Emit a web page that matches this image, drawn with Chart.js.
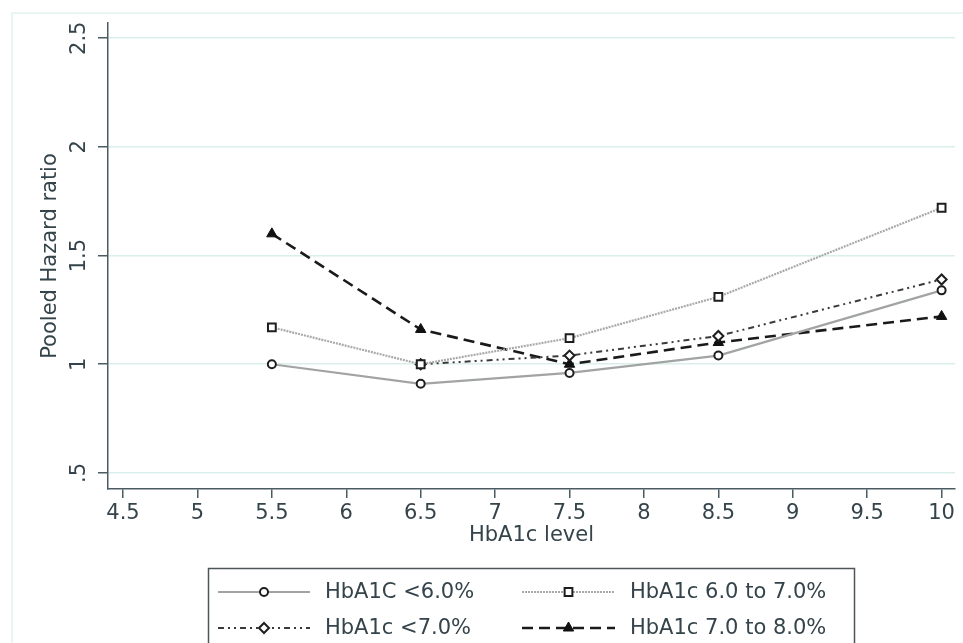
<!DOCTYPE html>
<html>
<head>
<meta charset="utf-8">
<script src="https://cdn.jsdelivr.net/npm/chart.js@4/dist/chart.umd.min.js"></script>
<style>
  html, body { margin: 0; padding: 0; background: #ffffff; }
  #wrap { width: 963px; height: 643px; position: relative; }
</style>
</head>
<body>
<div id="wrap"><canvas id="c" width="963" height="643"></canvas></div>
<script>
// ---- data ----
const hba1cLevels = [5.5, 6.5, 7.5, 8.5, 10];
const hrBelow6 = [1.00, 0.91, 0.96, 1.04, 1.34];
const hr6to7 = [1.17, 1.00, 1.12, 1.31, 1.72];
const hrBelow7 = [null, 1.00, 1.04, 1.13, 1.39];
const hr7to8 = [1.60, 1.16, 1.00, 1.10, 1.22];
const seriesNames = ['HbA1C <6.0%', 'HbA1c 6.0 to 7.0%', 'HbA1c <7.0%', 'HbA1c 7.0 to 8.0%'];
const xTickValues = [4.5, 5, 5.5, 6, 6.5, 7, 7.5, 8, 8.5, 9, 9.5, 10];
const xTickLabels = ['4.5', '5', '5.5', '6', '6.5', '7', '7.5', '8', '8.5', '9', '9.5', '10'];
const yTickValues = [0.5, 1, 1.5, 2, 2.5];
const yTickLabels = ['.5', '1', '1.5', '2', '2.5'];
const xAxisTitle = 'HbA1c level';
const yAxisTitle = 'Pooled Hazard ratio';

const toPoints = (vals) => hba1cLevels.map((x, i) => ({ x: x, y: vals[i] })).filter(p => p.y !== null);

const FONT = '"DejaVu Sans", sans-serif';
const FSIZE = 21;
const TEXT = '#34444a';
const AXIS = '#4a5b61';

const datasets = [
  { label: seriesNames[0], data: toPoints(hrBelow6), borderColor: '#a1a4a3', borderWidth: 2.2, borderDash: [],
    pointStyle: 'circle', pointRadius: 4, pointBorderWidth: 2, pointBorderColor: '#1e1e1e', pointBackgroundColor: '#ffffff' },
  { label: seriesNames[1], data: toPoints(hr6to7), borderColor: '#a7aaa9', borderWidth: 2.2, borderDash: [2, 1],
    pointStyle: 'rect', pointRadius: 5.5, pointBorderWidth: 2, pointBorderColor: '#1e1e1e', pointBackgroundColor: '#ffffff' },
  { label: seriesNames[2], data: toPoints(hrBelow7), borderColor: '#3a3a3a', borderWidth: 2, borderDash: [6, 4, 2, 4, 2, 4],
    pointStyle: 'rectRot', pointRadius: 5, pointBorderWidth: 2, pointBorderColor: '#1e1e1e', pointBackgroundColor: '#ffffff' },
  { label: seriesNames[3], data: toPoints(hr7to8), borderColor: '#1a1a1a', borderWidth: 2.6, borderDash: [11, 6],
    pointStyle: 'triangle', pointRadius: 6, pointBorderWidth: 1, pointBorderColor: '#111111', pointBackgroundColor: '#111111' }
];
datasets.forEach(d => { d.fill = false; d.tension = 0; d.pointHoverRadius = d.pointRadius; });

const legendPlugin = {
  id: 'stataLegend',
  afterDraw(chart) {
    const ctx = chart.ctx;
    ctx.save();
    ctx.strokeStyle = '#4d5557';
    ctx.lineWidth = 1.5;
    ctx.strokeRect(208.5, 568.5, 646, 90);
    const cols = [{ x0: 218, x1: 310, tx: 325 }, { x0: 522, x1: 615, tx: 630 }];
    const rows = [592, 628];
    const order = [[0, 0, 0], [1, 1, 0], [2, 0, 1], [3, 1, 1]];
    order.forEach(([di, ci, ri]) => {
      const d = chart.data.datasets[di];
      const c = cols[ci], y = rows[ri];
      ctx.save();
      ctx.strokeStyle = d.borderColor;
      ctx.lineWidth = d.borderWidth;
      ctx.setLineDash(d.borderDash || []);
      ctx.beginPath();
      ctx.moveTo(c.x0, y);
      ctx.lineTo(c.x1, y);
      ctx.stroke();
      ctx.restore();
      ctx.save();
      ctx.strokeStyle = d.pointBorderColor;
      ctx.fillStyle = d.pointBackgroundColor;
      ctx.lineWidth = d.pointBorderWidth;
      Chart.helpers.drawPoint(ctx, { pointStyle: d.pointStyle, radius: d.pointRadius, rotation: 0, borderWidth: d.pointBorderWidth }, (c.x0 + c.x1) / 2, y);
      ctx.restore();
      ctx.fillStyle = TEXT;
      ctx.font = FSIZE + 'px ' + FONT;
      ctx.textAlign = 'left';
      ctx.textBaseline = 'middle';
      ctx.fillText(d.label, c.tx, y + 1);
    });
    ctx.restore();
  },
  beforeDraw(chart) {
    const ctx = chart.ctx;
    ctx.save();
    ctx.strokeStyle = '#e2f2f0';
    ctx.lineWidth = 1.5;
    ctx.beginPath();
    ctx.moveTo(12, 643);
    ctx.lineTo(12, 13);
    ctx.lineTo(963, 13);
    ctx.stroke();
    ctx.restore();
  }
};

new Chart(document.getElementById('c'), {
  type: 'line',
  data: { datasets: datasets },
  options: {
    responsive: false,
    animation: false,
    events: [],
    layout: { padding: { left: 30, right: 8, top: 23, bottom: 83 } },
    plugins: { legend: { display: false }, tooltip: { enabled: false } },
    scales: {
      x: {
        type: 'linear',
        min: 4.399, max: 10.09,
        afterBuildTicks: (s) => { s.ticks = xTickValues.map(v => ({ value: v })); },
        afterFit: (s) => { s.height = 71; s.paddingLeft = 0; s.paddingRight = 0; },
        grid: { drawOnChartArea: false, drawTicks: true, tickLength: 9, color: AXIS, lineWidth: 1.5 },
        border: { display: true, color: AXIS, width: 1.5 },
        ticks: {
          autoSkip: false, maxRotation: 0, minRotation: 0, padding: 3, color: TEXT,
          font: { family: FONT, size: FSIZE },
          callback: (v) => { const i = xTickValues.indexOf(v); return i >= 0 ? xTickLabels[i] : ''; }
        },
        title: { display: true, text: xAxisTitle, color: TEXT, font: { family: FONT, size: FSIZE }, padding: { top: 0, bottom: 12 } }
      },
      y: {
        type: 'linear',
        min: 0.426, max: 2.57,
        afterBuildTicks: (s) => { s.ticks = yTickValues.map(v => ({ value: v })); },
        afterFit: (s) => { s.width = 78; s.paddingTop = 0; s.paddingBottom = 0; },
        grid: { drawOnChartArea: true, drawTicks: true, tickLength: 10, color: '#d9efec', tickColor: AXIS, lineWidth: 1.5 },
        border: { display: true, color: AXIS, width: 1.5 },
        ticks: {
          autoSkip: false, minRotation: 90, maxRotation: 90, crossAlign: 'center', padding: 2, color: TEXT,
          font: { family: FONT, size: FSIZE },
          callback: (v) => { const i = yTickValues.indexOf(v); return i >= 0 ? yTickLabels[i] : ''; }
        },
        title: { display: true, text: yAxisTitle, color: TEXT, font: { family: FONT, size: FSIZE }, padding: { top: 8, bottom: 0 } }
      }
    }
  },
  plugins: [legendPlugin]
});
</script>
</body>
</html>
